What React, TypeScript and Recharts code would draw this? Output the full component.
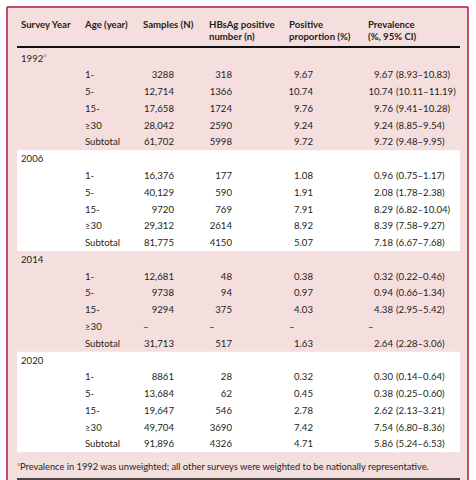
import React from 'react';
import { ScatterChart, Scatter, XAxis, YAxis, ReferenceArea, ReferenceLine } from 'recharts';

// table values
const years = ['1992', '2006', '2014', '2020'];
const ages = ['1-', '5-', '15-', '≥30', 'Subtotal'];
const samples = [
	[3288, 12714, 17658, 28042, 61702],
	[16376, 40129, 9720, 29312, 81775],
	[12681, 9738, 9294, null, 31713],
	[8861, 13684, 19647, 49704, 91896],
];
const positives = [
	[318, 1366, 1724, 2590, 5998],
	[177, 590, 769, 2614, 4150],
	[48, 94, 375, null, 517],
	[28, 62, 546, 3690, 4326],
];
const proportion = [
	[9.67, 10.74, 9.76, 9.24, 9.72],
	[1.08, 1.91, 7.91, 8.92, 5.07],
	[0.38, 0.97, 4.03, null, 1.63],
	[0.32, 0.45, 2.78, 7.42, 4.71],
];
const prevalence = [
	[9.67, 10.74, 9.76, 9.24, 9.72],
	[0.96, 2.08, 8.29, 8.39, 7.18],
	[0.32, 0.94, 4.38, null, 2.64],
	[0.3, 0.38, 2.62, 7.54, 5.86],
];
const ciLow = [
	[8.93, 10.11, 9.41, 8.85, 9.48],
	[0.75, 1.78, 6.82, 7.58, 6.67],
	[0.22, 0.66, 2.95, null, 2.28],
	[0.14, 0.25, 2.13, 6.8, 5.24],
];
const ciHigh = [
	[10.83, 11.19, 10.28, 9.54, 9.95],
	[1.17, 2.38, 10.04, 9.27, 7.68],
	[0.46, 1.34, 5.42, null, 3.06],
	[0.64, 0.6, 3.21, 8.36, 6.53],
];
const headerLine1 = ['Survey Year', 'Age (year)', 'Samples (N)', 'HBsAg positive', 'Positive', 'Prevalence'];
const headerLine2 = ['', '', '', 'number (n)', 'proportion (%)', '(%, 95% CI)'];
const footnote = 'Prevalence in 1992 was unweighted; all other surveys were weighted to be nationally representative.';

// layout
const W = 476;
const H = 480;
const ROW0 = 58;
const PITCH = 16.78;
const toRow = (px: number) => (px - ROW0) / PITCH;
const headX = [21, 85, 143, 209, 289, 368];
const X_YEAR = 21;
const X_AGE = 85;
const X_SAMPLES = 174;
const X_POS = 232;
const X_PROP = 313;
const X_PREV = 393;
const X_CI = 396;
const FONT = 'Lato, "Open Sans", sans-serif';
const INK = '#231f20';
const PINK = '#f5dede';
const RED = '#b5173a';

const fmtN = (n: number) => (n >= 10000 ? n.toLocaleString('en-US') : String(n));
const fmtP = (n: number) => n.toFixed(2);

type Cell = { x: number; y: number; t: string; anchor?: string; bold?: boolean; sup?: boolean; size?: number };

const cells: Cell[] = [];
headerLine1.forEach((t, i) => cells.push({ x: headX[i], y: toRow(24), t, bold: true }));
headerLine2.forEach((t, i) => t && cells.push({ x: headX[i], y: toRow(36), t, bold: true }));
years.forEach((yr, g) => {
	const base = g * 6;
	cells.push({ x: X_YEAR, y: base, t: yr, sup: g === 0 });
	ages.forEach((a, k) => {
		const r = base + 1 + k;
		cells.push({ x: X_AGE, y: r, t: a });
		const s = samples[g][k];
		if (s == null) {
			cells.push({ x: headX[2], y: r, t: '–' });
			cells.push({ x: headX[3], y: r, t: '–' });
			cells.push({ x: headX[4], y: r, t: '–' });
			cells.push({ x: headX[5], y: r, t: '–' });
			return;
		}
		cells.push({ x: X_SAMPLES, y: r, t: fmtN(s), anchor: 'end' });
		cells.push({ x: X_POS, y: r, t: fmtN(positives[g][k] as number), anchor: 'end' });
		cells.push({ x: X_PROP, y: r, t: fmtP(proportion[g][k] as number), anchor: 'end' });
		cells.push({ x: X_PREV, y: r, t: fmtP(prevalence[g][k] as number), anchor: 'end' });
		cells.push({
			x: X_CI,
			y: r,
			t: `(${fmtP(ciLow[g][k] as number)}–${fmtP(ciHigh[g][k] as number)})`,
		});
	});
});
cells.push({ x: 19, y: toRow(466), t: footnote, sup: true, size: 9.3 });

const TextCell = (props: any) => {
	const { cx, cy, payload } = props;
	if (cx == null || cy == null) return null;
	const c = payload as Cell;
	const size = c.size ?? 9.6;
	if (c.sup && c.size) {
		// footnote: superscript mark before the text
		return (
			<text x={cx - 2} y={cy} dominantBaseline="central" fontFamily={FONT} fontSize={size} fill={INK}>
				<tspan fontSize={6} fill="#c06080" dy={-3}>a</tspan>
				<tspan dy={3}>{c.t}</tspan>
			</text>
		);
	}
	return (
		<text
			x={cx}
			y={cy}
			dominantBaseline="central"
			textAnchor={c.anchor ?? 'start'}
			fontFamily={FONT}
			fontSize={size}
			fontWeight={c.bold ? 700 : 400}
			fill={INK}
		>
			{c.t}
			{c.sup && (
				<tspan fontSize={6} fill="#c06080" dy={-4}>
					a
				</tspan>
			)}
		</text>
	);
};

const yMin = toRow(0);
const yMax = toRow(H);

export default function App() {
	return (
		<div style={{ width: W, height: H }}>
			<style>{'body{margin:0}'}</style>
			<ScatterChart width={W} height={H} margin={{ top: 0, right: 0, bottom: 0, left: 0 }}>
				<XAxis type="number" dataKey="x" domain={[0, W]} hide allowDataOverflow />
				<YAxis type="number" dataKey="y" domain={[yMin, yMax]} reversed hide allowDataOverflow />
				<ReferenceArea x1={7} x2={468} y1={toRow(7)} y2={yMax} fill={PINK} fillOpacity={1} stroke="none" />
				<ReferenceArea x1={17} x2={460} y1={5.5} y2={11.5} fill="#ffffff" fillOpacity={1} stroke="none" />
				<ReferenceArea x1={17} x2={460} y1={17.5} y2={23.5} fill="#ffffff" fillOpacity={1} stroke="none" />
				<ReferenceLine segment={[{ x: 7, y: toRow(7) }, { x: 468, y: toRow(7) }]} stroke={RED} strokeWidth={1.5} />
				<ReferenceLine segment={[{ x: 7, y: toRow(7) }, { x: 7, y: yMax }]} stroke={RED} strokeWidth={1.5} />
				<ReferenceLine segment={[{ x: 468, y: toRow(7) }, { x: 468, y: yMax }]} stroke={RED} strokeWidth={1.5} />
				<ReferenceLine segment={[{ x: 17, y: toRow(47) }, { x: 460, y: toRow(47) }]} stroke="#111" strokeWidth={2} />
				<ReferenceLine segment={[{ x: 17, y: toRow(479) }, { x: 460, y: toRow(479) }]} stroke="#111" strokeWidth={1.5} />
				<Scatter data={cells} shape={TextCell} isAnimationActive={false} />
			</ScatterChart>
		</div>
	);
}
